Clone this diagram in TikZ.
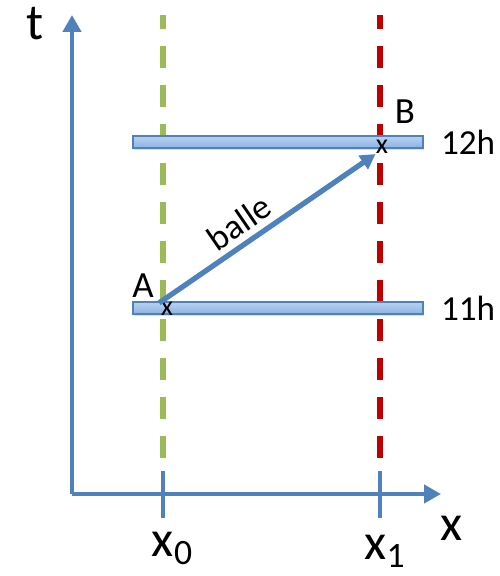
\documentclass[tikz,border=0pt]{standalone}
\usepackage{fontspec}
\setmainfont{Carlito}
\usepackage{tikz}
\usetikzlibrary{arrows.meta,positioning,shadows}

\definecolor{axisblue}{HTML}{4F81BD}
\definecolor{barlight}{HTML}{B9D1F1}
\definecolor{bardark}{HTML}{8DB3E2}
\definecolor{linegreen}{HTML}{9BBB59}
\definecolor{linered}{HTML}{C00000}

\begin{document}
\begin{tikzpicture}[
    axis/.style={draw=axisblue, line width=2.8pt, -{Triangle[length=0.34cm, width=0.36cm]}},
    tick/.style={draw=axisblue, line width=2.8pt},
    guide/.style={line width=3pt, dash pattern=on 0.44cm off 0.34cm, dash phase=0.16cm},
    hourbar/.style={draw=axisblue, line width=0.8pt, top color=barlight, bottom color=bardark,
      minimum width=5.8cm, minimum height=0.24cm, inner sep=0pt,
      drop shadow={opacity=0.25, shadow xshift=0.5pt, shadow yshift=-1.2pt}},
    bigtext/.style={font=\fontsize{29}{31}\selectfont, inner sep=0pt},
    labeltext/.style={font=\fontsize{21}{23}\selectfont, inner sep=0pt},
    hourtext/.style={font=\fontsize{20}{22}\selectfont, inner sep=0pt},
    eventmark/.style={font=\fontsize{16}{17}\selectfont, inner sep=0pt},
    ballarrow/.style={draw=axisblue, line width=3pt, -{Triangle[length=0.3cm, width=0.32cm]}}
  ]
    \useasboundingbox (0,0) rectangle (10,11.52);
    % axes
    \coordinate (origin) at (1.44,1.64);
    \coordinate (ttop) at (1.44,11.22);
    \coordinate (xend) at (8.82,1.64);
    \draw[axis] (origin) -- (ttop);
    \draw[axis] (origin) -- (xend);
    \node[bigtext] (tlabel) at (0.7,11.05) {t};
    \node[bigtext] (xlabel) at (9.04,0.95) {x};
    % vertical guides
    \coordinate (gtop) at (3.26,11.22);
    \coordinate (gbot) at (3.26,2.22);
    \coordinate (rtop) at (7.6,11.22);
    \coordinate (rbot) at (7.6,2.22);
    \draw[guide, linegreen] (gtop) -- (gbot);
    \draw[guide, linered] (rtop) -- (rbot);
    % ticks on x axis
    \coordinate (tick0top) at (3.26,2.1);
    \coordinate (tick0bot) at (3.26,1.16);
    \coordinate (tick1top) at (7.6,2.1);
    \coordinate (tick1bot) at (7.6,1.16);
    \draw[tick] (tick0top) -- (tick0bot);
    \draw[tick] (tick1top) -- (tick1bot);
    \node[bigtext] (xzero) at (3.45,0.55) {x\textsubscript{0}};
    \node[bigtext] (xone) at (7.7,0.5) {x\textsubscript{1}};
    % hour bars
    \node[hourbar] (bar12) at (5.56,8.68) {};
    \node[hourbar] (bar11) at (5.56,5.36) {};
    \node[hourtext, right=0.34cm of bar12] (h12) {12h};
    \node[hourtext, right=0.34cm of bar11] (h11) {11h};
    % events
    \node[eventmark] (ptA) at (3.34,5.34) {x};
    \node[eventmark] (ptB) at (7.64,8.58) {x};
    \node[labeltext] (labA) at (2.86,5.8) {A};
    \node[labeltext] (labB) at (8.1,9.28) {B};
    \draw[ballarrow, shorten <=-1pt] (ptA.north west) -- node[hourtext, above=0.12cm, sloped, pos=0.42] {balle} (ptB.south west);
  \end{tikzpicture}
\end{document}
